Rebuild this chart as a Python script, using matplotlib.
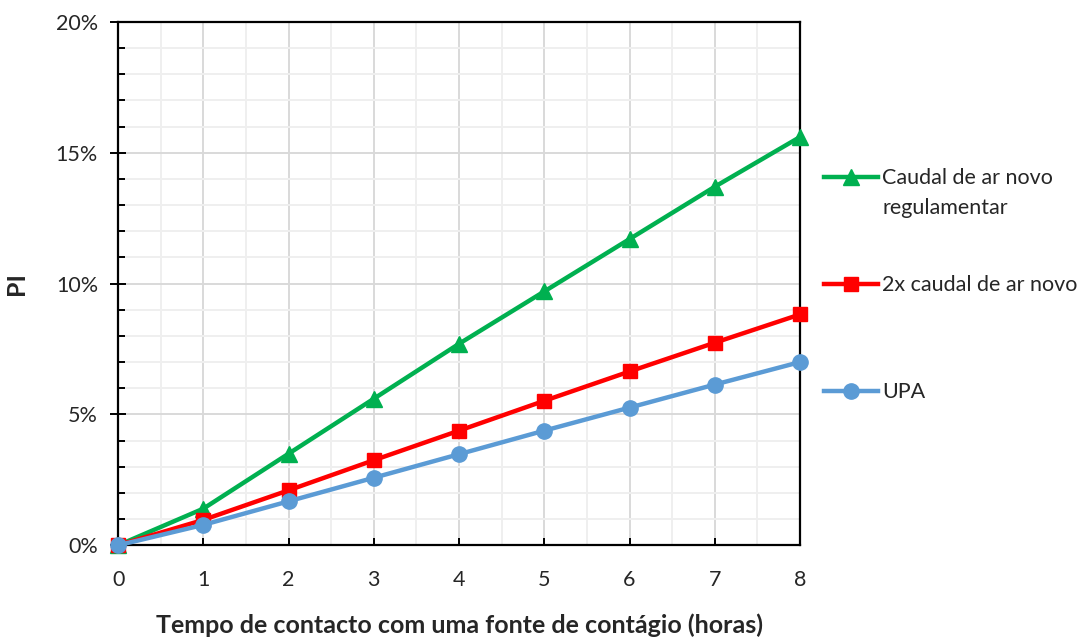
import numpy as np
from matplotlib import pyplot as plt
from matplotlib.ticker import MultipleLocator, PercentFormatter

plt.rcParams['font.family'] = ['Lato', 'DejaVu Sans']

horas = [0, 1, 2, 3, 4, 5, 6, 7, 8]

# probabilidade de infecção (%)
pi_regulamentar = [0.0, 1.4, 3.5, 5.6, 7.7, 9.7, 11.7, 13.7, 15.6]
pi_2x = [0.0, 0.97, 2.1, 3.25, 4.38, 5.52, 6.64, 7.74, 8.82]
pi_upa = [0.0, 0.78, 1.68, 2.58, 3.48, 4.38, 5.26, 6.14, 7.0]

fig = plt.figure(figsize=(10.84, 6.43), dpi=100)
ax = fig.add_axes([0.109, 0.152, 0.629, 0.814])

l1, = ax.plot(horas, pi_regulamentar, color='#00B050', lw=3.2, marker='^', ms=11,
              label='Caudal de ar novo', zorder=3, clip_on=False)
l2, = ax.plot(horas, pi_2x, color='#FF0000', lw=3.2, marker='s', ms=10,
              label='2x caudal de ar novo', zorder=4, clip_on=False)
l3, = ax.plot(horas, pi_upa, color='#5B9BD5', lw=3.2, marker='o', ms=11,
              label='UPA', zorder=5, clip_on=False)

ax.set_xlim(0, 8)
ax.set_ylim(0, 20)
ax.xaxis.set_major_locator(MultipleLocator(1))
ax.xaxis.set_minor_locator(MultipleLocator(0.5))
ax.yaxis.set_major_locator(MultipleLocator(5))
ax.yaxis.set_minor_locator(MultipleLocator(1))
ax.yaxis.set_major_formatter(PercentFormatter(decimals=0))

ax.grid(which='major', color='#D9D9D9', lw=1.4, zorder=0)
ax.grid(which='minor', color='#EFEFEF', lw=1.4, zorder=0)
ax.set_axisbelow(True)

for s in ax.spines.values():
    s.set_linewidth(1.6)
    s.set_color('black')

ax.tick_params(axis='x', which='major', direction='in', length=5, width=1.4,
               labelsize=15.5, pad=18, labelcolor='#262626')
ax.tick_params(axis='x', which='minor', length=0)
ax.tick_params(axis='y', which='major', direction='inout', length=11, width=1.4,
               labelsize=15.5, pad=9, labelcolor='#262626')
ax.tick_params(axis='y', which='minor', direction='in', length=5, width=1.4)

ax.set_xlabel('Tempo de contacto com uma fonte de contágio (horas)',
              fontsize=18, fontweight='bold', labelpad=17, color='#262626')
ax.set_ylabel('PI', fontsize=18, fontweight='bold', labelpad=20, color='#262626')

leg = fig.legend(handles=[l1, l2, l3], loc='upper left',
                 bbox_to_anchor=(0.752, 0.752), frameon=False, fontsize=15.5,
                 handlelength=2.5, handletextpad=0.2, labelspacing=4.05,
                 borderaxespad=0)
fig.text(0.8137, 0.677, 'regulamentar', fontsize=15.5, color='#262626',
         va='center', ha='left')
for t in leg.get_texts():
    t.set_color('#262626')

fig.savefig('out.png', dpi=100)
